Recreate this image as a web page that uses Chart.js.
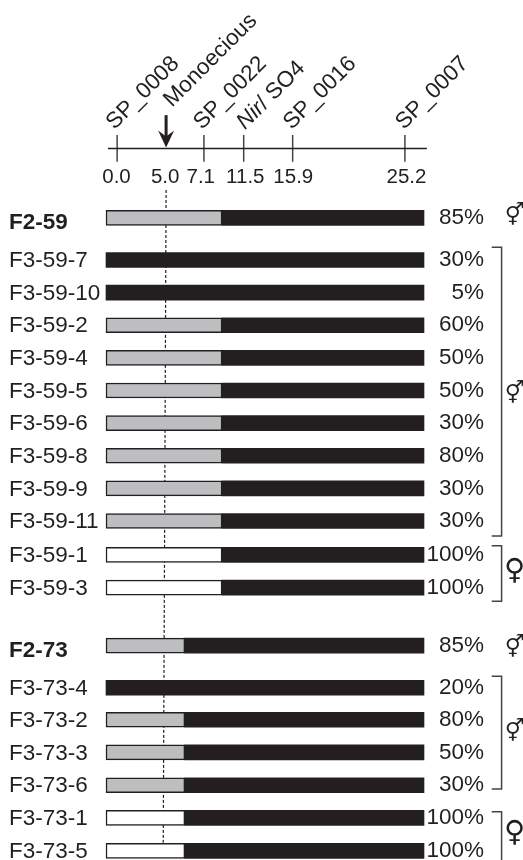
<!DOCTYPE html>
<html>
<head>
<meta charset="utf-8">
<style>
  html, body { margin: 0; padding: 0; background: #fff; }
  #wrap { width: 523px; height: 860px; }
</style>
<script src="https://cdn.jsdelivr.net/npm/chart.js@4/dist/chart.umd.min.js"></script>
</head>
<body>
<div id="wrap"><canvas id="myChart" width="523" height="860"></canvas></div>
<script>
// Rows, top to bottom. The map is schematic, so the x axis runs in bar length units (0 to 100)
const rowNames = ['F2-59', 'F3-59-7', 'F3-59-10', 'F3-59-2', 'F3-59-4', 'F3-59-5', 'F3-59-6', 'F3-59-8', 'F3-59-9', 'F3-59-11', 'F3-59-1', 'F3-59-3',
    'F2-73', 'F3-73-4', 'F3-73-2', 'F3-73-3', 'F3-73-6', 'F3-73-1', 'F3-73-5'];
const rowPos = [0, 1.29, 2.29, 3.29, 4.29, 5.29, 6.29, 7.29, 8.29, 9.29, 10.33, 11.33,
    13.11, 14.4, 15.38, 16.38, 17.39, 18.39, 19.4];
const percents = ['85%', '30%', '5%', '60%', '50%', '50%', '30%', '80%', '30%', '30%', '100%', '100%',
    '85%', '20%', '80%', '50%', '30%', '100%', '100%'];
const boldRows = ['F2-59', 'F2-73'];

// length of the grey or white part of each bar, the rest is black
const greySpan = [36.5, 0, 0, 36.5, 36.5, 36.5, 36.5, 36.5, 36.5, 36.5, 0, 0,
    24.8, 0, 24.8, 24.8, 24.8, 0, 0];
const whiteSpan = [0, 0, 0, 0, 0, 0, 0, 0, 0, 0, 36.5, 36.5,
    0, 0, 0, 0, 0, 24.8, 24.8];

// Marker map
const markerNames = ['SP_0008', 'SP_0022', 'Nir/ SO4', 'SP_0016', 'SP_0007'];
const markerPos = [3.5, 30.8, 43.3, 58.7, 94];
const markerTextPos = [3.0, 30.5, 44.0, 58.7, 94];
const mapLabels = ['0.0', '5.0', '7.1', '11.5', '15.9', '25.2'];
const mapLabelPos = [3.3, 18.6, 29.8, 43.8, 58.9, 94.5];
const traitName = 'Monoecious';
const traitPos = 18.9;

// Sex brackets and symbols
const bracketRows = [[0.9, 9.75], [10.05, 11.75], [14.05, 17.5], [18.2, 19.7]];
const sexSymbols = ['⚥', '⚥', '♀', '⚥', '⚥', '♀'];
const sexRows = [-0.05, 5.4, 10.85, 13.2, 15.78, 18.87];

const INK = '#231f20';
const FONT = '"Liberation Sans", Arial, sans-serif';
const MAP_ROW = -2.13;

function barData(starts, ends) {
    const out = [];
    rowPos.forEach((row, i) => {
        if (ends[i] > starts[i]) out.push({ x: [starts[i], ends[i]], y: row });
    });
    return out;
}

const zeros = rowPos.map(() => 0);
const leftEnd = rowPos.map((r, i) => Math.max(greySpan[i], whiteSpan[i]));
const fullLength = rowPos.map(() => 100);

function barSet(label, data, color, border) {
    return {
        type: 'bar', indexAxis: 'y', label: label, data: data, order: 0, grouped: false,
        backgroundColor: color, borderColor: INK, borderWidth: border,
        borderSkipped: false, barThickness: 15
    };
}

function lineSet(points, width, color, dash) {
    return {
        type: 'scatter', data: points, showLine: true, order: 1,
        borderColor: color, borderWidth: width, borderDash: dash || [],
        pointRadius: 0, tension: 0
    };
}

const datasets = [
    barSet('Black', barData(leftEnd, fullLength), INK, 0),
    barSet('Grey', barData(zeros, greySpan), '#bcbec0', 1.5),
    barSet('White', barData(zeros, whiteSpan), '#ffffff', 1.5),
    lineSet([{ x: 18.9, y: -0.86 }, { x: 18, y: 19.15 }], 1.2, INK, [3, 2]),
    lineSet([{ x: 0.6, y: MAP_ROW }, { x: 100.9, y: MAP_ROW }], 1.5, INK)
];
markerPos.forEach(pos => {
    datasets.push(lineSet([{ x: pos, y: -2.54 }, { x: pos, y: -1.72 }], 1.5, '#444'));
});

// texts and shapes that sit outside the scales' tick labels
const annotations = {
    id: 'annotations',
    afterDraw(chart) {
        const c = chart.ctx, xs = chart.scales.x, ys = chart.scales.y;
        c.save();
        c.fillStyle = INK;
        c.strokeStyle = INK;

        // map numbers
        c.font = '20.5px ' + FONT;
        c.textAlign = 'center';
        c.textBaseline = 'middle';
        mapLabels.forEach((t, i) => c.fillText(t, xs.getPixelForValue(mapLabelPos[i]), ys.getPixelForValue(-1.25)));

        // slanted marker names
        c.textAlign = 'left';
        c.textBaseline = 'alphabetic';
        const slanted = (x, y, draw) => {
            c.save();
            c.translate(x, y);
            c.rotate(-Math.PI / 4);
            draw();
            c.restore();
        };
        c.font = '22.5px ' + FONT;
        markerNames.forEach((name, i) => {
            const x = xs.getPixelForValue(markerTextPos[i]) - 1;
            const y = ys.getPixelForValue(-2.69);
            slanted(x, y, () => {
                if (name.startsWith('Nir')) {
                    c.font = 'italic 22.5px ' + FONT;
                    c.fillText('Nir', 0, 0);
                    const w = c.measureText('Nir').width;
                    c.font = '22.5px ' + FONT;
                    c.fillText(name.slice(3), w, 0);
                } else {
                    c.fillText(name, 0, 0);
                }
            });
        });
        slanted(xs.getPixelForValue(traitPos) + 6, ys.getPixelForValue(-3.38), () => c.fillText(traitName, 0, 0));

        // arrow to the trait
        const ax = xs.getPixelForValue(traitPos);
        const tip = ys.getPixelForValue(MAP_ROW) - 1;
        c.lineWidth = 3;
        c.beginPath();
        c.moveTo(ax, ys.getPixelForValue(-3.15));
        c.lineTo(ax, tip - 8);
        c.stroke();
        c.beginPath();
        c.moveTo(ax, tip);
        c.lineTo(ax - 8, tip - 17);
        c.lineTo(ax, tip - 11);
        c.lineTo(ax + 8, tip - 17);
        c.closePath();
        c.fill();

        // brackets
        const bx = xs.getPixelForValue(124.4), bt = xs.getPixelForValue(121.3);
        c.strokeStyle = '#444';
        c.lineWidth = 1.5;
        bracketRows.forEach(b => {
            c.beginPath();
            c.moveTo(bt, ys.getPixelForValue(b[0]));
            c.lineTo(bx, ys.getPixelForValue(b[0]));
            c.lineTo(bx, ys.getPixelForValue(b[1]));
            c.lineTo(bt, ys.getPixelForValue(b[1]));
            c.stroke();
        });

        // sex symbols, the female sign is a smaller glyph in this font
        c.textAlign = 'center';
        c.textBaseline = 'middle';
        sexSymbols.forEach((s, i) => {
            c.font = (s === '♀' ? '29px' : '22px') + ' "DejaVu Sans"';
            c.fillText(s, xs.getPixelForValue(128.5), ys.getPixelForValue(sexRows[i]));
        });
        c.restore();
    }
};

function rowAxis(position, names, tickPos, width, bold) {
    return {
        type: 'linear', position: position, reverse: true, offset: false, min: -6.68, max: 19.68,
        grid: { display: false, drawTicks: false },
        border: { display: false },
        afterBuildTicks(axis) { axis.ticks = tickPos.map(v => ({ value: v })); },
        afterFit(axis) {
            axis.width = width;
            axis.paddingTop = 0;
            axis.paddingBottom = 0;
        },
        ticks: {
            autoSkip: false, padding: 0, crossAlign: 'far', color: INK,
            maxRotation: 0, minRotation: 0,
            font: ctx => ({ family: FONT, size: 22.5, weight: bold && boldRows.includes(names[ctx.index]) ? 'bold' : 'normal' }),
            callback: (value, index) => names[index]
        }
    };
}

const labelPos = rowPos.map((r, i) => boldRows.includes(rowNames[i]) ? r + 0.15 : r + 0.03);

new Chart(document.getElementById('myChart').getContext('2d'), {
    data: { datasets: datasets },
    plugins: [annotations],
    options: {
        responsive: false,
        animation: false,
        layout: { padding: { left: 9, right: 39 } },
        plugins: { legend: { display: false }, tooltip: { enabled: false } },
        scales: {
            x: { type: 'linear', display: false, min: -0.63, max: 101.26 },
            y: rowAxis('left', rowNames, labelPos, 95, true),
            yRight: rowAxis('right', percents, rowPos, 56, false)
        }
    }
});
</script>
</body>
</html>
